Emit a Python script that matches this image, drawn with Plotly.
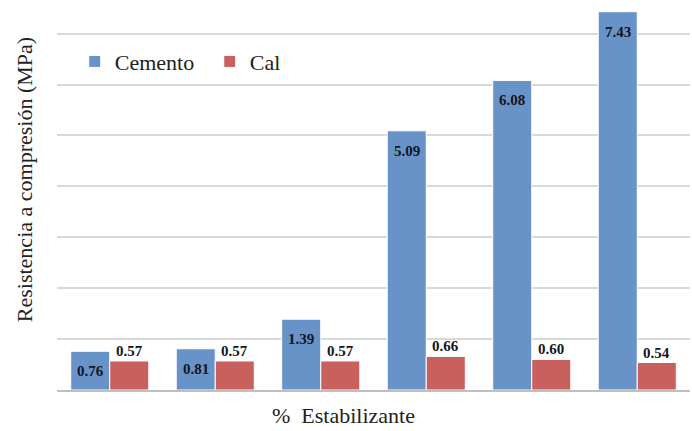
import plotly.graph_objects as go

# Compressive strength (MPa) for each stabilizer dosage group
grupos = ["1", "2", "3", "4", "5", "6"]
cemento = [0.76, 0.81, 1.39, 5.09, 6.08, 7.43]
cal = [0.57, 0.57, 0.57, 0.66, 0.60, 0.54]

color_cemento = "#6893C8"
color_cal = "#C8605E"
fuente = "Liberation Serif"

bargap = 0.26
bargroupgap = 0.0
ancho = (1 - bargap) / 2          # width of each bar in category units
desfase = ancho / 2               # centre offset of each bar from the group centre

fig = go.Figure()
fig.add_trace(go.Bar(
    x=grupos, y=cemento, name="Cemento",
    marker=dict(color=color_cemento, line=dict(color="white", width=1)),
))
fig.add_trace(go.Bar(
    x=grupos, y=cal, name="Cal",
    marker=dict(color=color_cal, line=dict(color="white", width=1)),
))

# Value labels: inside the top of the cement bars, above the lime bars
anotaciones = []
for i, (vc, vl) in enumerate(zip(cemento, cal)):
    anotaciones.append(dict(
        x=i - desfase, y=vc, xref="x", yref="y", text=f"<b>{vc:.2f}</b>",
        showarrow=False, yanchor="middle", yshift=-20,
        font=dict(family=fuente, size=15, color="#151520"),
    ))
    anotaciones.append(dict(
        x=i + desfase, y=vl, xref="x", yref="y", text=f"<b>{vl:.2f}</b>",
        showarrow=False, yanchor="bottom", yshift=0,
        font=dict(family=fuente, size=15, color="#151520"),
    ))

# Axis titles
anotaciones.append(dict(
    x=0.453, y=0, xref="paper", yref="paper", text="%  Estabilizante",
    showarrow=False, yanchor="bottom", yshift=-40,
    font=dict(family=fuente, size=22, color="#222222"),
))
anotaciones.append(dict(
    x=0, y=0.538, xref="paper", yref="paper", text="Resistencia a compresión (MPa)",
    showarrow=False, textangle=-90, xanchor="center", xshift=-33,
    font=dict(family=fuente, size=22, color="#222222"),
))

fig.update_layout(
    width=692, height=431,
    margin=dict(l=57, r=2, t=0, b=41),
    paper_bgcolor="white", plot_bgcolor="white",
    barmode="group", bargap=bargap, bargroupgap=bargroupgap,
    showlegend=True,
    font=dict(family=fuente),
    legend=dict(
        orientation="h", x=0.028, y=0.842, xanchor="left", yanchor="middle",
        font=dict(family=fuente, size=22, color="#222222"),
        bgcolor="rgba(0,0,0,0)", entrywidth=90,
    ),
    annotations=anotaciones,
    xaxis=dict(
        showticklabels=False, ticks="", showgrid=False,
        showline=True, linecolor="#BFBFBF", linewidth=1.5,
        range=[-0.5, 5.5],
    ),
    yaxis=dict(
        range=[0, 7.66], dtick=1, showticklabels=False, ticks="",
        showgrid=True, gridcolor="#D9D9D9", gridwidth=1.5,
        zeroline=False, showline=False,
    ),
)

fig.write_html("out.html")
